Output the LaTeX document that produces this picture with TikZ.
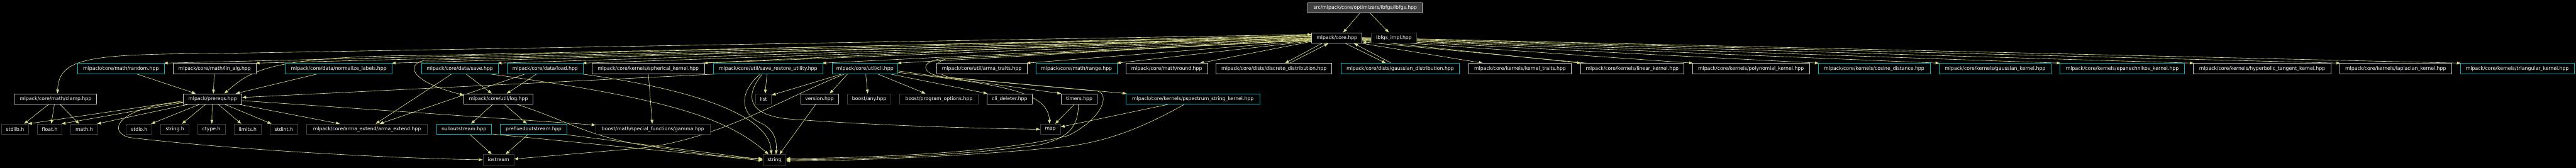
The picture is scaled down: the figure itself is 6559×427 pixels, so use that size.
\documentclass[tikz,border=0pt]{standalone}
\usepackage{fontspec}
\setmainfont{DejaVu Sans}
\usetikzlibrary{arrows.meta,calc}
\pgfdeclarelayer{bg}
\pgfdeclarelayer{edges}
\pgfsetlayers{bg,edges,main}
\definecolor{edgec}{HTML}{E0E08C}
\definecolor{cyanb}{HTML}{00B4BE}
\definecolor{grayb}{HTML}{C4C4C4}
\definecolor{darkb}{HTML}{404040}
\definecolor{topfill}{HTML}{404040}
\newcommand\gfont{\fontsize{6.2pt}{7pt}\selectfont}
% style, name, left x, right x, top y, text   (units: reference pixels)
\newcommand\gn[6]{\node[#1,minimum width={(#4-#3)*0.5pt}] (#2) at ({(#3+#4)/2},{#5+13.33}) {#6};}
\tikzset{
  nb/.style={draw, line width=0.6pt, minimum height=13.33pt, inner sep=0pt, text=white, font=\gfont, fill=black},
  cy/.style={nb, draw=cyanb},
  gr/.style={nb, draw=grayb},
  dk/.style={nb, draw=darkb},
  topn/.style={nb, draw=grayb, fill=topfill},
  dep/.style={draw=edgec, line width=0.5pt, -{Triangle[length=5pt,width=3.6pt]}}
}
\begin{document}
\begin{tikzpicture}[x=0.5pt,y=-0.5pt]
\useasboundingbox (0,0) rectangle (6559,427);
\begin{pgfonlayer}{bg}
\fill[black] (0,0) rectangle (6559,427);
\end{pgfonlayer}
% row 0
\gn{topn}{lbfgs}{3330.5}{3621.6}{6.7}{src/mlpack/core/optimizers/lbfgs/lbfgs.hpp}
% row 1
\gn{gr}{core}{3340}{3468}{83.3}{mlpack/core.hpp}
\gn{dk}{impl}{3492}{3606.5}{83.3}{lbfgs\_impl.hpp}
% row 2
\gn{cy}{random}{197.5}{418.4}{161.3}{mlpack/core/math/random.hpp}
\gn{gr}{linalg}{440.6}{652.2}{161.3}{mlpack/core/math/lin\_alg.hpp}
\gn{cy}{norm}{726.3}{998.8}{161.3}{mlpack/core/data/normalize\_labels.hpp}
\gn{cy}{save}{1073.2}{1268.4}{161.3}{mlpack/core/data/save.hpp}
\gn{cy}{load}{1291.9}{1484.4}{161.3}{mlpack/core/data/load.hpp}
\gn{gr}{sph}{1507.6}{1793.3}{161.3}{mlpack/core/kernels/spherical\_kernel.hpp}
\gn{cy}{sru}{1817.1}{2094.6}{161.3}{mlpack/core/util/save\_restore\_utility.hpp}
\gn{cy}{cli}{2118.4}{2286.3}{161.3}{mlpack/core/util/cli.hpp}
\gn{gr}{traits}{2384.8}{2614.9}{161.3}{mlpack/core/util/arma\_traits.hpp}
\gn{cy}{range}{2637.7}{2844.5}{161.3}{mlpack/core/math/range.hpp}
\gn{gr}{round}{2867}{3074.3}{161.3}{mlpack/core/math/round.hpp}
\gn{gr}{disc}{3096.4}{3391.2}{161.3}{mlpack/core/dists/discrete\_distribution.hpp}
\gn{cy}{gd}{3414.3}{3716.3}{161.3}{mlpack/core/dists/gaussian\_distribution.hpp}
\gn{gr}{kt}{3739.5}{4001.3}{161.3}{mlpack/core/kernels/kernel\_traits.hpp}
\gn{gr}{lin}{4024.5}{4287.5}{161.3}{mlpack/core/kernels/linear\_kernel.hpp}
\gn{gr}{poly}{4309.3}{4607.3}{161.3}{mlpack/core/kernels/polynomial\_kernel.hpp}
\gn{cy}{cos}{4629.7}{4914.4}{161.3}{mlpack/core/kernels/cosine\_distance.hpp}
\gn{cy}{gk}{4936.8}{5223}{161.3}{mlpack/core/kernels/gaussian\_kernel.hpp}
\gn{cy}{epa}{5245.5}{5562}{161.3}{mlpack/core/kernels/epanechnikov\_kernel.hpp}
\gn{gr}{hyp}{5584.2}{5935.6}{161.3}{mlpack/core/kernels/hyperbolic\_tangent\_kernel.hpp}
\gn{gr}{lap}{5957.4}{6242.3}{161.3}{mlpack/core/kernels/laplacian\_kernel.hpp}
\gn{cy}{tri}{6264.5}{6554.5}{161.3}{mlpack/core/kernels/triangular\_kernel.hpp}
% row 3
\gn{gr}{clamp}{36.5}{246.2}{238.7}{mlpack/core/math/clamp.hpp}
\gn{gr}{prereqs}{466.5}{616.1}{238.7}{mlpack/prereqs.hpp}
\gn{gr}{log}{1181.4}{1356.7}{238.7}{mlpack/core/util/log.hpp}
\gn{dk}{list}{1923.8}{1964.4}{238.7}{list}
\gn{gr}{version}{2038.5}{2134.6}{238.7}{version.hpp}
\gn{dk}{any}{2157.7}{2268.7}{238.7}{boost/any.hpp}
\gn{dk}{po}{2291.2}{2490.1}{238.7}{boost/program\_options.hpp}
\gn{gr}{cd}{2512.9}{2628.3}{238.7}{cli\_deleter.hpp}
\gn{gr}{timers}{2702.5}{2793.3}{238.7}{timers.hpp}
\gn{cy}{psp}{2867}{3207.5}{238.7}{mlpack/core/kernels/pspectrum\_string\_kernel.hpp}
% row 4
\gn{dk}{stdlib}{4.2}{72.6}{315.7}{stdlib.h}
\gn{dk}{float}{95}{158.2}{315.7}{float.h}
\gn{dk}{math}{180.3}{248.7}{315.7}{math.h}
\gn{dk}{stdio}{321.6}{387.2}{315.7}{stdio.h}
\gn{dk}{stringh}{409.7}{480.9}{315.7}{string.h}
\gn{dk}{ctype}{503.3}{573.3}{315.7}{ctype.h}
\gn{dk}{limits}{596.5}{664.5}{315.7}{limits.h}
\gn{dk}{stdint}{687}{758.2}{315.7}{stdint.h}
\gn{dk}{arma}{781}{1087.9}{315.7}{mlpack/core/arma\_extend/arma\_extend.hpp}
\gn{cy}{null}{1111.6}{1250.8}{315.7}{nulloutstream.hpp}
\gn{cy}{pref}{1274.3}{1442.7}{315.7}{prefixedoutstream.hpp}
\gn{dk}{gamma}{1517}{1808.4}{315.7}{boost/math/special\_functions/gamma.hpp}
\gn{dk}{map}{2649}{2700.2}{315.7}{map}
% row 5
\gn{dk}{iostream}{1229.8}{1308.7}{393.3}{iostream}
\gn{dk}{string}{1942.3}{2001.3}{393.3}{string}

\begin{pgfonlayer}{edges}
% lbfgs
\draw[dep] ($(lbfgs.south)+(-14,0)$) -- ($(core.north)+(16,0)$);
\draw[dep] ($(lbfgs.south)+(13,0)$) -- ($(impl.north)+(-13,0)$);
% core -> row 2, left
\draw[dep] ($(core.west)+(0,-7)$) -- ($(random.north east)+(-2,0)$);
\draw[dep] ($(core.west)+(0,-5)$) -- ($(linalg.north east)+(-2,0)$);
\draw[dep] ($(core.west)+(0,-3)$) -- ($(norm.north east)+(-2,0)$);
\draw[dep] ($(core.west)+(0,-1)$) -- ($(save.north east)+(-2,0)$);
\draw[dep] ($(core.west)+(0,1)$) -- ($(load.north east)+(-2,0)$);
\draw[dep] ($(core.west)+(0,2)$) -- ($(sph.north east)+(-2,0)$);
\draw[dep] ($(core.west)+(0,3)$) -- ($(sru.north east)+(-2,0)$);
\draw[dep] ($(core.west)+(0,4)$) -- ($(cli.north east)+(-2,0)$);
\draw[dep] ($(core.west)+(0,7)$) -- ($(traits.north east)+(-2,0)$);
\draw[dep] ($(core.west)+(0,8)$) -- ($(range.north east)+(-2,0)$);
\draw[dep] ($(core.west)+(0,9)$) -- ($(round.north east)+(-20,0)$);
\draw[dep] ($(sph.north east)+(-14,0)$) -- ($(core.west)+(0,-9)$);
% core -> row 2, right
\draw[dep] (core.south east) -- ($(kt.north west)+(37,0)$);
\draw[dep] ($(core.east)+(0,6)$) -- ($(lin.north west)+(2,0)$);
\draw[dep] ($(core.east)+(0,5)$) -- ($(poly.north west)+(2,0)$);
\draw[dep] ($(core.east)+(0,4)$) -- ($(cos.north west)+(2,0)$);
\draw[dep] ($(core.east)+(0,3)$) -- ($(gk.north west)+(2,0)$);
\draw[dep] ($(core.east)+(0,2)$) -- ($(epa.north west)+(2,0)$);
\draw[dep] ($(core.east)+(0,1)$) -- ($(hyp.north west)+(2,0)$);
\draw[dep] ($(core.east)+(0,0)$) -- ($(lap.north west)+(2,0)$);
\draw[dep] ($(core.east)+(0,-1)$) -- ($(tri.north west)+(2,0)$);
\draw[dep] ($(lin.north west)+(18,0)$) -- ($(core.east)+(0,10)$);
% core <-> dists
\draw[dep] ($(core.south west)+(26,0)$) -- ($(disc.north east)+(-120,0)$);
\draw[dep] ($(disc.north east)+(-108,0)$) -- ($(core.south)+(-22,0)$);
\draw[dep] ($(core.south)+(22,0)$) -- ($(gd.north west)+(115,0)$);
\draw[dep] ($(gd.north west)+(129,0)$) -- ($(core.south east)+(-21,0)$);
% core -> deeper nodes
\draw[dep] ($(core.west)+(0,-9)$) -- (560,136) .. controls (230,138) and (150,145) .. ($(clamp.north)+(5,0)$);
\draw[dep] ($(core.west)+(0,-4)$) -- (1090,141) .. controls (690,143) and (640,178) .. ($(prereqs.north)+(30,0)$);
\draw[dep] ($(core.west)+(0,0)$) -- (1085,153) .. controls (1035,160) and (1035,205) .. ($(log.north west)+(0,4)$);
\draw[dep] ($(core.west)+(0,5)$) -- (2395,150) .. controls (2345,156) and (2340,188) .. (2405,196) -- ($(psp.north west)+(2,0)$);
\draw[dep] ($(core.west)+(0,6)$) -- (2412,149) .. controls (2375,158) and (2372,186) .. (2422,198) -- (2795,232) .. controls (2825,240) and (2810,300) .. (2720,345) .. controls (2550,390) and (2200,402) .. ($(string.east)+(0,-3)$);
% clamp
\draw[dep] ($(clamp.south)+(-18,0)$) -- ($(stdlib.north)+(23,0)$);
\draw[dep] ($(clamp.south)+(-3,0)$) -- ($(float.north)+(4,0)$);
\draw[dep] ($(clamp.south)+(12,0)$) -- ($(math.north)+(-13,0)$);
% -> prereqs
\draw[dep] ($(random.south)+(41,0)$) -- ($(prereqs.north)+(-43,0)$);
\draw[dep] ($(linalg.south)+(-1,0)$) -- ($(prereqs.north)+(2,0)$);
\draw[dep] ($(norm.south)+(-56,0)$) -- ($(prereqs.north)+(59,0)$);
\draw[dep] ($(sru.south west)+(5,0)$) -- ($(prereqs.east)+(0,-4)$);
% prereqs ->
\draw[dep] ($(prereqs.west)+(0,5)$) -- ($(stdlib.north east)+(-2,0)$);
\draw[dep] ($(prereqs.west)+(0,9)$) -- ($(float.north east)+(-2,0)$);
\draw[dep] ($(prereqs.south west)+(12,0)$) -- ($(math.north east)+(-2,0)$);
\draw[dep] ($(prereqs.south west)+(41,0)$) -- ($(stdio.north east)+(-3,0)$);
\draw[dep] ($(prereqs.south west)+(57,0)$) -- ($(stringh.north)+(18,0)$);
\draw[dep] ($(prereqs.south)+(-1,0)$) -- ($(ctype.north)+(1,0)$);
\draw[dep] ($(prereqs.south)+(15,0)$) -- ($(limits.north)+(-16,0)$);
\draw[dep] ($(prereqs.south)+(32,0)$) -- ($(stdint.north west)+(5,0)$);
\draw[dep] ($(prereqs.south)+(69,0)$) -- ($(arma.north west)+(85,0)$);
\draw[dep] ($(prereqs.east)+(0,4)$) -- ($(gamma.north west)+(0,3)$);
\draw[dep] ($(prereqs.west)+(0,8)$) .. controls (300,272) and (270,335) .. (330,350) .. controls (600,382) and (1000,403) .. (iostream.west);
% save / load
\draw[dep] ($(save.south)+(16,0)$) -- ($(log.north)+(-17,0)$);
\draw[dep] ($(load.south)+(-22,0)$) -- ($(log.north)+(21,0)$);
\draw[dep] ($(save.south)+(-21,0)$) -- ($(arma.north)+(22,0)$);
\draw[dep] ($(load.south)+(-52,0)$) -- ($(arma.north)+(32,0)$);
\draw[dep] ($(save.south east)+(-20,0)$) .. controls (1700,250) and (1850,300) .. ($(string.north)+(-15,0)$);
\draw[dep] ($(load.south east)+(-2,0)$) .. controls (1750,225) and (1960,290) .. ($(string.north)+(-8,0)$);
% spherical
\draw[dep] ($(sph.south west)+(144,0)$) -- ($(gamma.north)+(-2,0)$);
% log
\draw[dep] ($(log.south)+(-15,0)$) -- ($(null.north)+(18,0)$);
\draw[dep] ($(log.south)+(16,0)$) -- ($(pref.north)+(-17,0)$);
\draw[dep] ($(log.south east)+(-40,0)$) .. controls (1440,305) and (1490,345) .. (1640,370) .. controls (1800,395) and (1880,402) .. ($(string.west)+(0,-3)$);
% outstreams
\draw[dep] ($(null.south)+(16,0)$) -- ($(iostream.north)+(-17,0)$);
\draw[dep] ($(pref.south)+(-15,0)$) -- ($(iostream.north)+(18,0)$);
\draw[dep] ($(null.south east)+(0,-2)$) -- ($(string.west)+(0,2)$);
\draw[dep] (pref.south east) -- ($(string.west)+(0,-0.5)$);
% save_restore_utility
\draw[dep] ($(sru.south)+(-3,0)$) -- ($(list.north)+(4,0)$);
\draw[dep] ($(sru.south)+(-20,0)$) .. controls (1880,235) and (1885,290) .. (1935,312) .. controls (1975,330) and (1978,362) .. ($(string.north)+(4,0)$);
\draw[dep] ($(sru.south)+(-15,0)$) .. controls (1895,245) and (1905,290) .. (2000,302) .. controls (2200,318) and (2450,326) .. (map.west);
% cli
\draw[dep] ($(cli.south west)+(25,0)$) -- ($(list.north east)+(0,4)$);
\draw[dep] ($(cli.south west)+(32,0)$) .. controls (1990,252) and (1820,360) .. (1620,378) -- ($(iostream.east)+(0,-2)$);
\draw[dep] ($(cli.south west)+(40,0)$) -- ($(version.north)+(26,0)$);
\draw[dep] ($(cli.south)+(2,0)$) -- ($(any.north)+(-4,0)$);
\draw[dep] ($(cli.south)+(33,0)$) -- ($(po.north)+(-34,0)$);
\draw[dep] ($(cli.south)+(65,0)$) -- ($(cd.north west)+(2,0)$);
\draw[dep] ($(cli.east)+(0,6)$) -- (timers.north west);
\draw[dep] ($(cli.east)+(0,10)$) .. controls (2560,215) and (2668,235) .. ($(map.north)+(-2,0)$);
% version, timers, pspectrum
\draw[dep] ($(version.south)+(-10,0)$) -- ($(string.north)+(13,0)$);
\draw[dep] ($(timers.south)+(-13,0)$) -- ($(map.north)+(12,0)$);
\draw[dep] ($(timers.south)+(-2,0)$) .. controls (2745,325) and (2720,350) .. (2650,368) .. controls (2450,398) and (2150,406) .. ($(string.east)+(0,0)$);
\draw[dep] ($(psp.south)+(-64,0)$) -- ($(map.east)+(0,-6)$);
\draw[dep] ($(psp.south)+(-22,0)$) .. controls (2900,330) and (2800,370) .. (2660,378) .. controls (2450,398) and (2150,410) .. ($(string.east)+(0,3)$);
\end{pgfonlayer}
\end{tikzpicture}
\end{document}
